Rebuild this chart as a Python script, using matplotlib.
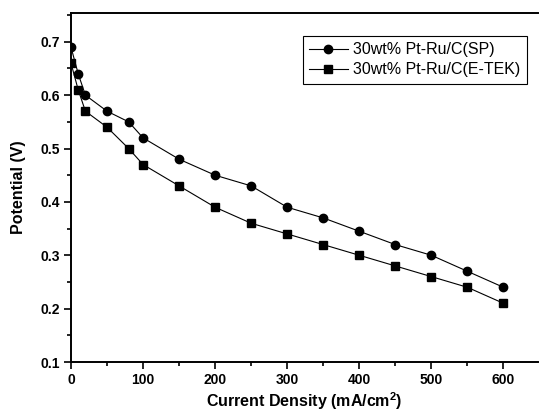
import matplotlib.pyplot as plt
from matplotlib.ticker import MultipleLocator

# current density (mA/cm2) and cell potential (V)
current = [0, 10, 20, 50, 80, 100, 150, 200, 250, 300, 350, 400, 450, 500, 550, 600]
potential_sp = [0.69, 0.64, 0.60, 0.57, 0.55, 0.52, 0.48, 0.45, 0.43, 0.39,
                0.37, 0.345, 0.32, 0.30, 0.27, 0.24]
potential_etek = [0.66, 0.61, 0.57, 0.54, 0.50, 0.47, 0.43, 0.39, 0.36, 0.34,
                  0.32, 0.30, 0.28, 0.26, 0.24, 0.21]
labels = ["30wt% Pt-Ru/C(SP)", "30wt% Pt-Ru/C(E-TEK)"]

plt.rcParams['font.family'] = ['Liberation Sans', 'DejaVu Sans']
plt.rcParams['mathtext.fontset'] = 'custom'
plt.rcParams['mathtext.rm'] = 'Liberation Sans:bold'
plt.rcParams['mathtext.bf'] = 'Liberation Sans:bold'

fig = plt.figure(figsize=(5.39, 4.15), dpi=100)
# axes box: left 71px, right 538px, top 13px, bottom 362px
ax = fig.add_axes([71 / 539, 53 / 415, 467 / 539, 349 / 415])

ax.plot(current, potential_sp, color="black", lw=0.8, marker="o", ms=6, label=labels[0])
ax.plot(current, potential_etek, color="black", lw=0.8, marker="s", ms=5.5, label=labels[1])

ax.set_xlim(0, 648)
ax.set_ylim(0.1, 0.754)
ax.xaxis.set_major_locator(MultipleLocator(100))
ax.xaxis.set_minor_locator(MultipleLocator(50))
ax.yaxis.set_major_locator(MultipleLocator(0.1))
ax.yaxis.set_minor_locator(MultipleLocator(0.05))
ax.tick_params(which="both", direction="out", width=1.2, top=False, right=False)
ax.tick_params(which="major", length=5, labelsize=10, pad=3)
ax.tick_params(which="minor", length=3)
for lab in ax.get_xticklabels() + ax.get_yticklabels():
    lab.set_fontweight("bold")
for sp in ax.spines.values():
    sp.set_linewidth(1.4)
ax.spines["right"].set_visible(False)

ax.set_xlabel("Current Density (mA/cm$\\mathregular{^2}$)", fontsize=11.5,
              fontweight="bold", labelpad=2)
ax.set_ylabel("Potential (V)", fontsize=11.5, fontweight="bold", labelpad=10)

leg = ax.legend(loc="upper right", bbox_to_anchor=(0.976, 0.934), borderaxespad=0,
                fontsize=11.5, fancybox=False, edgecolor="black", framealpha=1,
                handlelength=2.4, handletextpad=0.35, borderpad=0.4, labelspacing=0.3)
leg.get_frame().set_linewidth(0.8)

fig.savefig("out.png", dpi=100)
